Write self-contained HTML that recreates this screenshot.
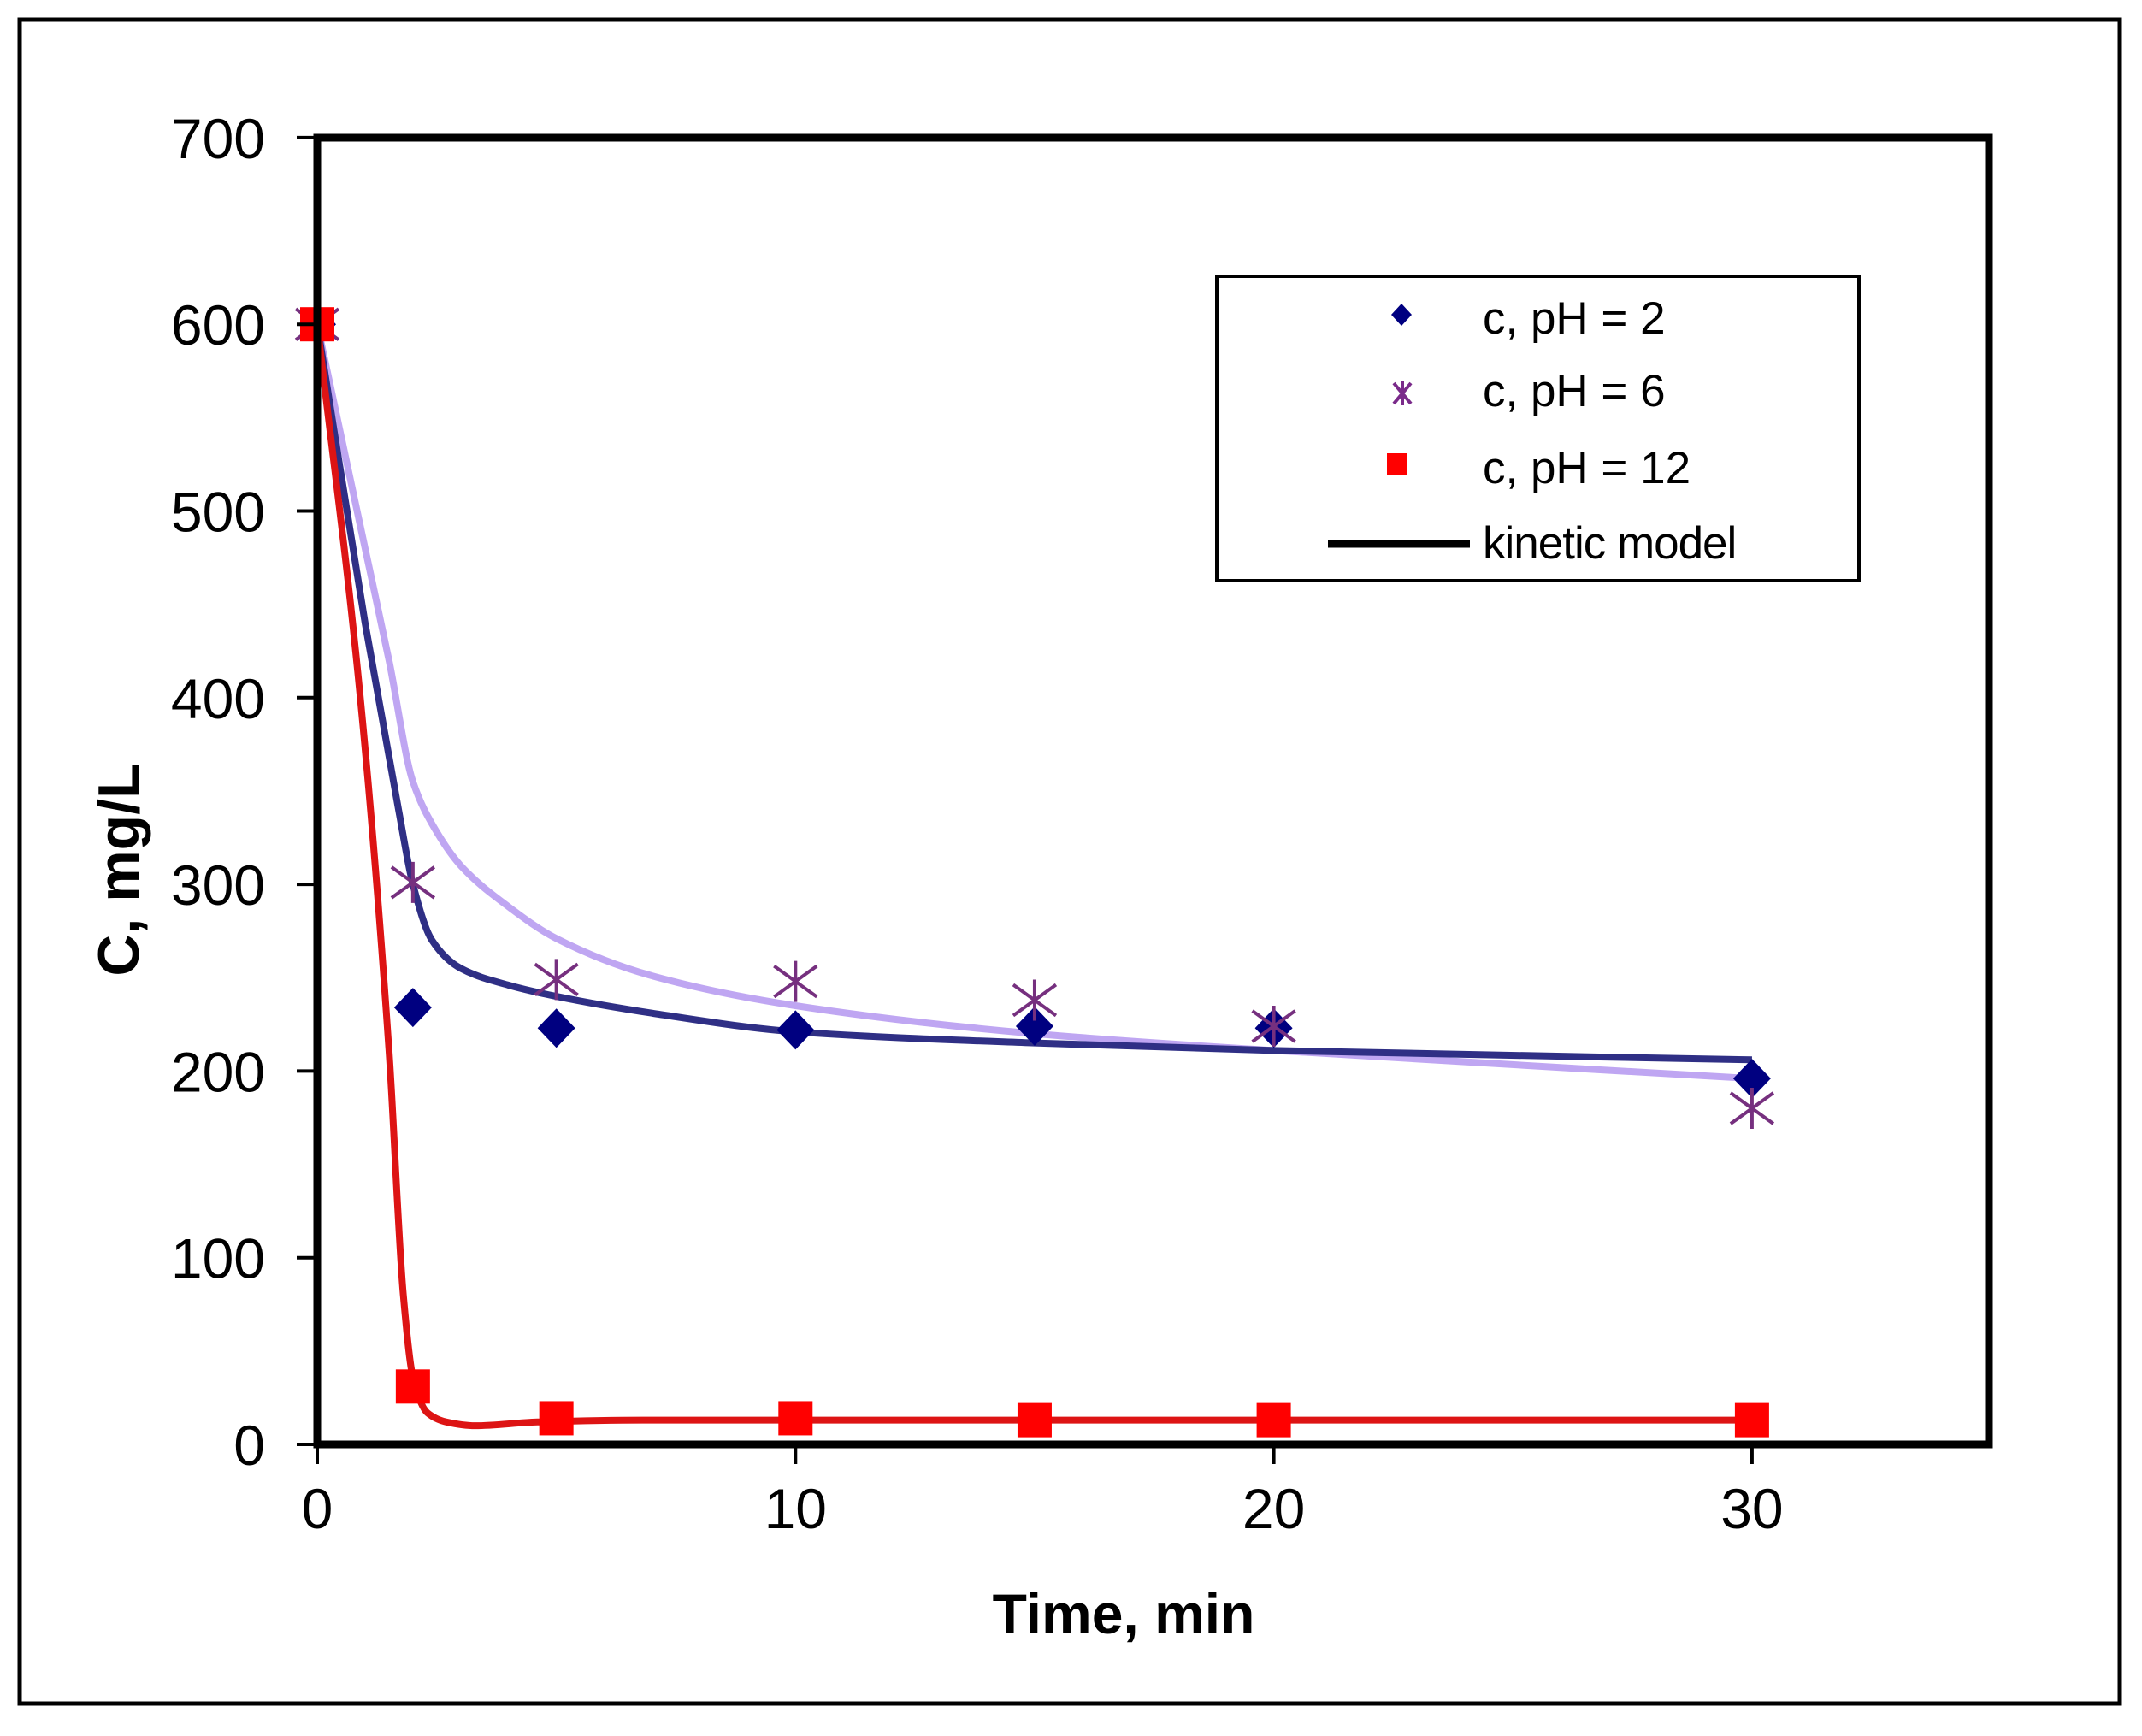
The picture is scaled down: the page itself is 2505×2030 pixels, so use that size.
<!DOCTYPE html>
<html><head><meta charset="utf-8">
<style>
html,body{margin:0;padding:0;background:#fff;}
svg{display:block;}
text{font-family:"Liberation Sans",Arial,sans-serif;}
</style></head>
<body>
<svg id="chart" width="2505" height="2030" viewBox="0 0 2505 2030" xmlns="http://www.w3.org/2000/svg">
<rect x="0" y="0" width="2505" height="2030" fill="#fff"/>
<rect x="23" y="23" width="2456" height="1969" fill="none" stroke="#000" stroke-width="5"/>
<g id="curves"></g>
<g id="markers"></g>
<rect x="371" y="161" width="1955" height="1528" fill="none" stroke="#000" stroke-width="9"/>
<g id="axes"></g>
<text x="1314" y="1910" font-size="66" font-weight="bold" text-anchor="middle">Time, min</text>
<text x="162" y="1017" font-size="68" font-weight="bold" text-anchor="middle" transform="rotate(-90 162 1017)">C, mg/L</text>
<g>
  <rect x="1423" y="323" width="751" height="356" fill="#fff" stroke="#000" stroke-width="4"/>
  <g>
    <path d="M1639 355 L1651 368 L1639 381 L1627 368 Z" fill="#000080"/>
    <text x="1734" y="390" font-size="53">c, pH = 2</text>
  </g>
  <g>
    <path d="M1630 448 L1650 472 M1650 448 L1630 472 M1640 446 L1640 474" stroke="#7a2a8a" stroke-width="4" fill="none"/>
    <text x="1734" y="475" font-size="53">c, pH = 6</text>
  </g>
  <g>
    <rect x="1622" y="530" width="24" height="26" fill="#ff0000"/>
    <text x="1734" y="565" font-size="53">c, pH = 12</text>
  </g>
  <g>
    <line x1="1553" y1="636" x2="1719" y2="636" stroke="#000" stroke-width="9"/>
    <text x="1734" y="653" font-size="53" letter-spacing="-1">kinetic model</text>
  </g>
</g>
</svg>
<script>
// ---- data ----
const xTicks = [0, 10, 20, 30];
const yTicks = [0, 100, 200, 300, 400, 500, 600, 700];
const timePoints = [0, 2, 5, 10, 15, 20, 30];
const cPH2 = [600, 234, 223, 222, 224, 223, 196];
const cPH6 = [600, 301, 249, 248, 238, 224, 180];
const cPH12 = [600, 31, 14, 14, 13, 13, 13];
const modelT_PH2 = [0, 1, 1.7, 2.0, 2.4, 3, 4, 5, 7, 10, 15, 20, 30];
const modelC_PH2 = [600, 440, 340, 300, 270, 255, 246, 240, 231, 221, 215, 211, 206];
const modelT_PH6 = [0, 1, 1.5, 2, 2.5, 3, 4, 5, 7, 10, 15, 20, 30];
const modelC_PH6 = [600, 480, 420, 355, 328, 310, 288, 271, 251, 235, 220, 211, 196];
const modelT_PH12 = [0, 0.9, 1.5, 1.8, 2.0, 2.3, 2.7, 3.3, 4.6, 6.8, 30];
const modelC_PH12 = [600, 400, 211, 80, 36, 17, 12, 10, 12, 13, 13];

// ---- axis functions ----
const X0 = 371, XPER = 55.93, Y0 = 1689, YPER = 2.183;
function sx(t){ return X0 + t * XPER; }
function sy(v){ return Y0 - v * YPER; }
const NS = "http://www.w3.org/2000/svg";
function mk(tag, attrs, parent){
  const e = document.createElementNS(NS, tag);
  for (const k in attrs) e.setAttribute(k, attrs[k]);
  parent.appendChild(e);
  return e;
}

// ---- axes ----
const axes = document.getElementById('axes');
yTicks.forEach(v => {
  const l = mk('line', {x1: X0 - 24, x2: X0, y1: sy(v), y2: sy(v), stroke: '#000', 'stroke-width': 4}, axes);
  
  
  const t = mk('text', {x: 310, y: sy(v) + 24, 'font-size': 66, 'text-anchor': 'end'}, axes);
  t.textContent = v;
  
  
});
xTicks.forEach(v => {
  const l = mk('line', {x1: sx(v), x2: sx(v), y1: Y0, y2: Y0 + 23, stroke: '#000', 'stroke-width': 4}, axes);
  
  
  const t = mk('text', {x: sx(v), y: 1787, 'font-size': 66, 'text-anchor': 'middle'}, axes);
  t.textContent = v;
  
  
});

// ---- monotone cubic path ----
function monotonePath(xs, ys){
  const n = xs.length, px = xs.map(sx), py = ys.map(sy);
  const d = [], m = new Array(n);
  for (let i = 0; i < n - 1; i++) d.push((py[i+1] - py[i]) / (px[i+1] - px[i]));
  m[0] = d[0]; m[n-1] = d[n-2];
  for (let i = 1; i < n - 1; i++) {
    if (d[i-1] * d[i] <= 0) m[i] = 0;
    else { const h0 = px[i]-px[i-1], h1 = px[i+1]-px[i];
      m[i] = 3*(h0+h1) / ((2*h1+h0)/d[i-1] + (h1+2*h0)/d[i]); }
  }
  let s = 'M' + px[0] + ' ' + py[0];
  for (let i = 0; i < n - 1; i++) {
    const h = (px[i+1] - px[i]) / 3;
    s += ' C' + (px[i]+h) + ' ' + (py[i]+m[i]*h) + ' ' + (px[i+1]-h) + ' ' + (py[i+1]-m[i+1]*h) + ' ' + px[i+1] + ' ' + py[i+1];
  }
  return s;
}
const curves = document.getElementById('curves');
const c6 = mk('path', {d: monotonePath(modelT_PH6, modelC_PH6), fill: 'none', stroke: '#bfa6f2', 'stroke-width': 8}, curves);


const c2 = mk('path', {d: monotonePath(modelT_PH2, modelC_PH2), fill: 'none', stroke: '#2f2f85', 'stroke-width': 8}, curves);


const c12 = mk('path', {d: monotonePath(modelT_PH12, modelC_PH12), fill: 'none', stroke: '#dd1414', 'stroke-width': 8}, curves);



// ---- markers ----
const markers = document.getElementById('markers');
timePoints.forEach((t, i) => {
  const x = sx(t), y = sy(cPH2[i]);
  const p = mk('path', {d: `M${x} ${y-23} L${x+22} ${y} L${x} ${y+23} L${x-22} ${y} Z`, fill: '#000080'}, markers);
  
  
});
timePoints.forEach((t, i) => {
  const x = sx(t), y = sy(cPH6[i]);
  const p = mk('path', {d: `M${x-25} ${y-18} L${x+25} ${y+18} M${x+25} ${y-18} L${x-25} ${y+18} M${x} ${y-24} L${x} ${y+24}`, fill: 'none', stroke: '#76307f', 'stroke-width': 4}, markers);
  
  
});
timePoints.forEach((t, i) => {
  const x = sx(t), y = sy(cPH12[i]);
  const p = mk('rect', {x: x - 20, y: y - 20, width: 40, height: 40, fill: '#ff0000'}, markers);
  
  
});
</script>
</body></html>
